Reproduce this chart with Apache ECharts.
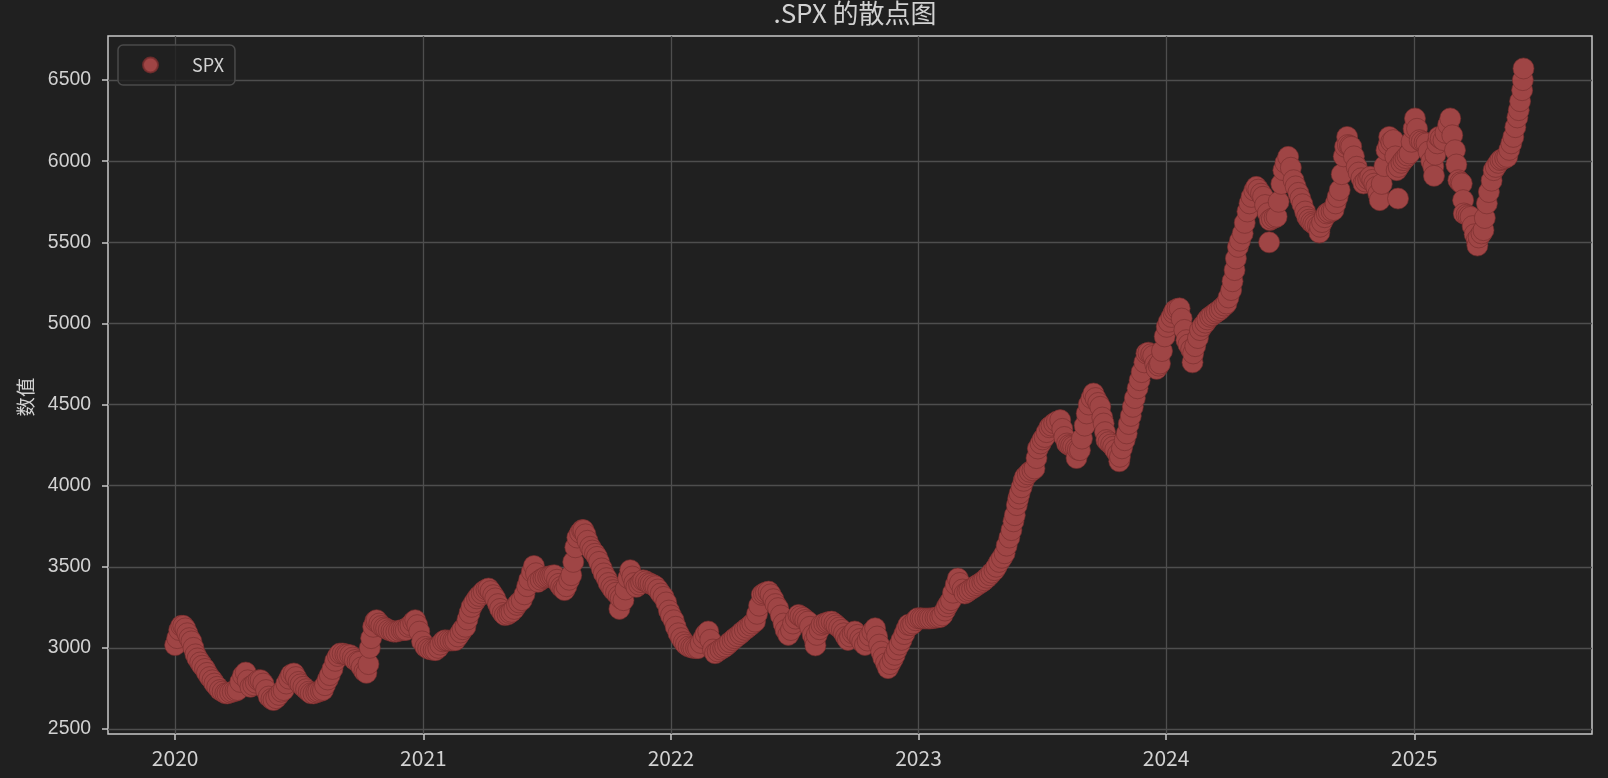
<!DOCTYPE html>
<html>
<head>
<meta charset="utf-8">
<style>
html,body{margin:0;padding:0;background:#202020;}
#chart{width:1608px;height:778px;}
</style>
<script src="https://cdn.jsdelivr.net/npm/echarts@6/dist/echarts.min.js"></script>
</head>
<body>
<div id="chart"></div>
<script>
const titleText = '.SPX 的散点图';
const seriesName = 'SPX';
const yAxisName = '数值';
const yTickValues = [2500, 3000, 3500, 4000, 4500, 5000, 5500, 6000, 6500];
const xTickYears = [2020, 2021, 2022, 2023, 2024, 2025];
const startDate = '2020-01-01';

// [days since 2020-01-01, value]
const spx2020 = [[0,3017],[3,3060],[6,3110],[9,3136],[12,3136],[15,3120],[18,3090],[21,3060],[24,3040],[27,3000],
[30,2960],[33,2935],[37,2910],[40,2890],[44,2870],[47,2846],[51,2820],[55,2800],[58,2780],[62,2760],
[66,2740],[70,2730],[74,2720],[77,2719],[81,2725],[85,2730],[89,2735],[92,2740],[96,2790],[100,2830],
[104,2848],[107,2800],[111,2760],[115,2770],[119,2785],[123,2800],[126,2801],[130,2780],[134,2740],[138,2700],
[142,2685],[145,2678],[149,2690],[153,2710],[157,2730],[160,2740],[164,2780],[168,2810],[171,2835],[175,2842],
[178,2820],[182,2790],[185,2775],[189,2760],[193,2745],[197,2730],[200,2720],[204,2719],[208,2725],[211,2730],
[215,2735],[218,2740],[221,2770],[225,2805],[228,2832],[232,2870],[236,2920],[240,2950],[243,2965],[247,2965],
[251,2960],[254,2958],[258,2955],[262,2940],[265,2925],[269,2915],[272,2914],[275,2880],[279,2855],[282,2846],
[285,2900],[287,3000],[289,3060],[292,3130],[295,3165],[297,3171],[301,3150],[304,3135],[308,3125],[311,3119],
[315,3110],[319,3105],[322,3100],[326,3100],[330,3105],[334,3110],[337,3110],[340,3110],[344,3130],[347,3140],
[351,3160],[354,3171],[357,3140],[360,3100],[364,3040]];

const spx2021 = [[369,3006],[373,2995],[377,2990],[381,2988],[384,2986],[388,3000],[391,3020],[395,3040],[398,3047],[402,3045],
[406,3045],[410,3046],[413,3047],[417,3070],[421,3095],[424,3115],[428,3130],[431,3175],[434,3215],[437,3253],
[441,3280],[445,3305],[448,3320],[452,3335],[455,3350],[459,3360],[462,3366],[465,3350],[469,3325],[472,3305],
[476,3270],[479,3240],[483,3215],[486,3202],[490,3205],[493,3215],[496,3222],[500,3240],[504,3265],[507,3280],
[511,3294],[515,3330],[519,3380],[522,3420],[526,3470],[529,3505],[532,3460],[535,3407],[539,3420],[543,3430],
[546,3435],[550,3438],[553,3442],[556,3445],[559,3448],[563,3420],[566,3395],[569,3376],[572,3365],[574,3356],
[577,3380],[581,3420],[584,3448],[587,3530],[590,3620],[593,3680],[597,3710],[600,3726],[602,3726],[605,3700],
[608,3660],[612,3623],[615,3600],[619,3580],[622,3561],[625,3530],[629,3490],[632,3459],[636,3430],[639,3400],
[643,3375],[646,3356],[650,3340],[654,3320],[655,3240],[657,3305],[661,3294],[664,3360],[668,3430],[671,3479],
[674,3440],[677,3400],[680,3376],[684,3390],[687,3405],[690,3417],[694,3410],[698,3400],[701,3395],[705,3387],
[708,3380],[712,3360],[716,3335],[720,3314],[724,3280],[728,3230]];

const spx2022 = [[731,3200],[735,3170],[738,3130],[742,3090],[746,3060],[750,3035],[753,3020],[757,3008],[761,3003],[764,3000],
[768,2998],[771,2998],[775,3030],[779,3060],[782,3085],[786,3101],[789,3050],[793,2990],[796,2967],[800,2978],
[804,2990],[808,3000],[811,3008],[815,3022],[818,3035],[822,3048],[825,3060],[829,3072],[833,3085],[836,3098],
[840,3111],[844,3124],[848,3137],[851,3150],[855,3162],[858,3210],[861,3260],[865,3327],[868,3335],[871,3342],
[875,3347],[878,3330],[882,3300],[885,3270],[889,3245],[893,3200],[897,3150],[900,3110],[904,3080],[908,3110],
[911,3150],[915,3180],[919,3203],[922,3195],[926,3185],[929,3172],[933,3162],[936,3130],[940,3080],[943,3049],
[944,3015],[946,3080],[950,3115],[953,3142],[957,3150],[961,3155],[964,3160],[968,3162],[972,3150],[975,3138],
[979,3125],[983,3111],[986,3090],[989,3068],[992,3049],[995,3070],[999,3090],[1002,3101],[1006,3080],[1010,3055],
[1013,3035],[1017,3018],[1021,3045],[1024,3075],[1028,3100],[1032,3121],[1035,3070],[1038,3020],[1041,2977],[1044,2940],
[1048,2905],[1051,2875],[1054,2900],[1058,2930],[1061,2957],[1064,2990],[1068,3020],[1071,3049],[1075,3085],[1078,3115],
[1081,3142],[1085,3140],[1088,3150],[1092,3170],[1095,3183]];

const spx2023 = [[1099,3182],[1102,3181],[1106,3181],[1110,3181],[1113,3181],[1117,3183],[1121,3186],[1124,3188],[1128,3190],[1131,3200],
[1135,3230],[1138,3255],[1141,3275],[1144,3294],[1147,3340],[1151,3390],[1154,3428],[1157,3400],[1161,3360],[1164,3335],
[1168,3345],[1171,3355],[1175,3365],[1179,3376],[1182,3386],[1186,3396],[1190,3407],[1193,3417],[1197,3432],[1201,3448],
[1204,3463],[1208,3479],[1211,3500],[1215,3530],[1219,3555],[1223,3583],[1226,3630],[1230,3680],[1233,3726],[1236,3780],
[1238,3818],[1241,3880],[1243,3920],[1245,3952],[1248,3990],[1251,4030],[1253,4054],[1257,4070],[1260,4085],[1264,4095],
[1267,4106],[1270,4170],[1272,4229],[1276,4260],[1279,4285],[1282,4300],[1285,4330],[1289,4360],[1292,4370],[1296,4385],
[1300,4395],[1305,4404],[1308,4350],[1311,4300],[1315,4260],[1318,4250],[1321,4245],[1324,4240],[1328,4230],[1329,4170],
[1331,4222],[1334,4219],[1337,4290],[1341,4370],[1344,4445],[1347,4500],[1351,4540],[1354,4568],[1357,4540],[1361,4510],
[1364,4486],[1367,4420],[1369,4383],[1371,4330],[1373,4281],[1376,4268],[1380,4254],[1383,4240],[1386,4220],[1390,4195],
[1392,4150],[1393,4178],[1396,4230],[1400,4280],[1403,4322],[1406,4380],[1409,4430],[1412,4486],[1415,4540],[1419,4600],
[1422,4650],[1425,4700],[1429,4760],[1432,4815],[1435,4820],[1439,4810],[1442,4800],[1445,4750],[1447,4720],[1450,4740],
[1452,4753],[1455,4830],[1459,4920]];

const spx2024 = [[1462,4979],[1465,5010],[1469,5040],[1472,5065],[1474,5082],[1478,5090],[1481,5093],[1484,5030],[1488,4960],[1491,4897],
[1494,4870],[1498,4840],[1500,4760],[1501,4815],[1504,4860],[1508,4910],[1511,4959],[1515,4985],[1519,5005],[1522,5025],
[1526,5041],[1529,5050],[1533,5062],[1536,5072],[1540,5082],[1543,5095],[1547,5110],[1550,5123],[1553,5160],[1557,5206],
[1559,5260],[1562,5329],[1564,5400],[1567,5472],[1570,5510],[1574,5555],[1577,5620],[1581,5690],[1584,5740],[1587,5780],
[1591,5820],[1594,5842],[1597,5825],[1601,5800],[1604,5781],[1607,5730],[1611,5680],[1613,5500],[1614,5637],[1617,5645],
[1621,5652],[1624,5658],[1627,5750],[1631,5860],[1634,5945],[1637,5990],[1641,6027],[1645,5960],[1649,5883],[1652,5845],
[1656,5805],[1659,5770],[1662,5735],[1666,5690],[1669,5657],[1672,5640],[1675,5625],[1678,5616],[1681,5608],[1685,5600],
[1687,5560],[1688,5596],[1691,5625],[1695,5655],[1698,5678],[1701,5685],[1705,5692],[1708,5699],[1711,5740],[1714,5780],
[1717,5822],[1720,5920],[1723,6030],[1725,6089],[1728,6150],[1729,6100],[1732,6095],[1734,6089],[1738,6030],[1742,5966],
[1745,5930],[1749,5895],[1752,5863],[1755,5875],[1759,5890],[1762,5904],[1765,5885],[1768,5862],[1771,5842],[1774,5800],
[1776,5760],[1779,5860],[1783,5970],[1786,6068],[1789,6100],[1790,6150],[1793,6120],[1796,6130],[1799,6030],[1801,5945],
[1803,5770],[1804,5965],[1808,5990],[1811,6007],[1814,6020],[1817,6035],[1820,6048],[1823,6120],[1826,6200]];

const spx2025 = [[1828,6264],[1831,6200],[1835,6130],[1838,6122],[1842,6115],[1845,6110],[1848,6060],[1852,6000],[1855,5966],[1856,5910],
[1858,6040],[1861,6110],[1863,6150],[1866,6140],[1870,6130],[1873,6175],[1877,6225],[1880,6264],[1883,6160],[1887,6068],
[1889,5980],[1892,5883],[1895,5870],[1897,5863],[1899,5760],[1900,5678],[1904,5670],[1907,5663],[1910,5657],[1913,5600],
[1916,5550],[1919,5514],[1920,5480],[1922,5530],[1926,5555],[1929,5575],[1931,5650],[1934,5740],[1937,5810],[1941,5880],
[1944,5945],[1947,5965],[1951,5990],[1954,6007],[1957,6013],[1961,6020],[1964,6027],[1967,6070],[1970,6110],[1973,6150],
[1976,6210],[1979,6270],[1981,6315],[1983,6370],[1986,6438],[1987,6500],[1988,6572]];

const DAY = 86400000;
const toTime = s => new Date(s + 'T00:00:00').getTime();
const t0 = toTime(startDate);
const seriesData = [].concat(spx2020, spx2021, spx2022, spx2023, spx2024, spx2025)
  .map(p => [t0 + p[0] * DAY, p[1]]);
const xTickValues = xTickYears.map(y => toTime(y + '-01-01'));

const textColor = '#d2d2d2';
const cjk = '"Noto Sans CJK SC", sans-serif';
const chart = echarts.init(document.getElementById('chart'), null, {renderer: 'canvas'});
chart.setOption({
  backgroundColor: '#202020',
  animation: false,
  title: {
    text: titleText,
    left: 850,
    textAlign: 'center',
    top: -5,
    textStyle: {color: textColor, fontSize: 26, fontWeight: 'normal', fontFamily: cjk}
  },
  legend: {
    data: [seriesName],
    left: 118,
    top: 45,
    orient: 'vertical',
    icon: 'circle',
    itemWidth: 15,
    itemHeight: 15,
    padding: [11, 11, 11, 24],
    borderColor: '#4a4a4a',
    borderWidth: 1.5,
    borderRadius: 5,
    backgroundColor: 'rgba(32,32,32,0.8)',
    textStyle: {color: textColor, fontSize: 18, fontFamily: cjk, padding: [0, 0, 0, 29]}
  },
  grid: {
    left: 108, right: 16, top: 36, bottom: 44,
    show: true,
    borderColor: '#c8c8c8',
    borderWidth: 1.5,
    backgroundColor: 'transparent'
  },
  xAxis: {
    type: 'value',
    min: toTime('2019-09-24'),
    max: toTime('2025-09-20'),
    axisLine: {show: false},
    axisTick: {show: true, customValues: xTickValues, length: 6, lineStyle: {color: '#c8c8c8', width: 1.5}},
    axisLabel: {customValues: xTickValues, color: textColor, fontSize: 21, fontFamily: cjk, margin: 14,
      formatter: v => String(new Date(v).getFullYear())},
    splitLine: {show: true, lineStyle: {color: '#4e4e4e', width: 1.3}}
  },
  yAxis: {
    type: 'value',
    min: 2469,
    max: 6772,
    splitNumber: 8,
    name: yAxisName,
    nameLocation: 'middle',
    nameRotate: 90,
    nameGap: 73,
    nameTextStyle: {color: textColor, fontSize: 19.4, fontFamily: cjk, padding: [0, 24, 0, 0]},
    axisLine: {show: false},
    axisTick: {show: true, customValues: yTickValues, length: 6, lineStyle: {color: '#c8c8c8', width: 1.5}},
    axisLabel: {customValues: yTickValues, color: textColor, fontSize: 19.4, fontFamily: '"Liberation Sans", Arial, sans-serif', margin: 17,
      formatter: v => String(v)},
    splitLine: {show: true, lineStyle: {color: '#4e4e4e', width: 1.3}}
  },
  series: [{
    name: seriesName,
    type: 'scatter',
    data: seriesData,
    symbol: 'circle',
    symbolSize: 21,
    itemStyle: {color: '#9f4545', borderColor: 'rgba(120,46,46,0.8)', borderWidth: 0.8, opacity: 1}
  }]
});
</script>
</body>
</html>
